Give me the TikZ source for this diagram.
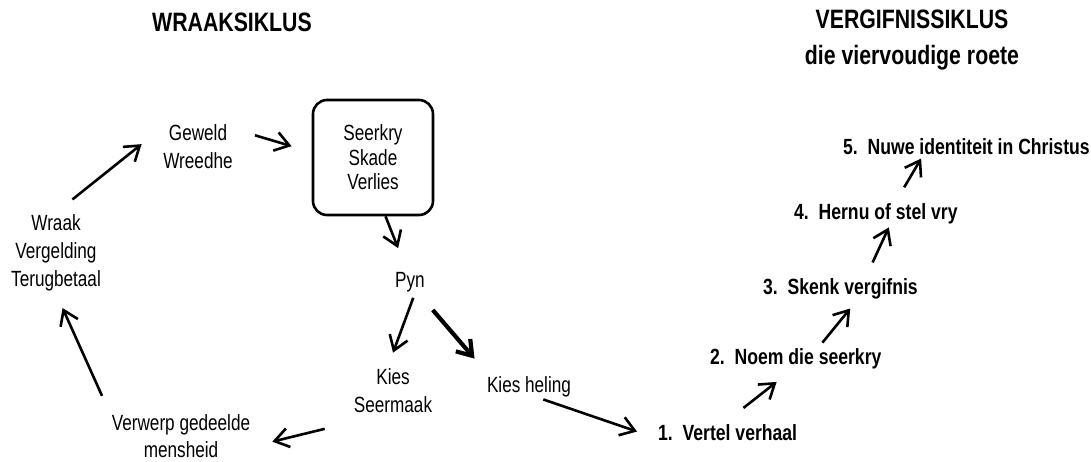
\documentclass[tikz,border=0pt]{standalone}
\usepackage{fontspec}
\setmainfont{Liberation Sans}[FakeStretch=0.78, BoldFeatures={FakeStretch=0.80}]
\usetikzlibrary{arrows.meta}

\tikzset{
    lbl/.style={align=center, font=\fontsize{22}{28}\selectfont},
    stap/.style={anchor=west, font=\bfseries\fontsize{22}{26}\selectfont},
    kop/.style={align=center, font=\bfseries\fontsize{26.6}{36}\selectfont},
    pyl/.style={-{Straight Barb[length=14pt,width=19pt]}, line width=2.6pt}
}

\begin{document}
\begin{tikzpicture}[x=1pt, y=-1pt, inner sep=2pt]
        \useasboundingbox (0, 0) rectangle (1091, 461);
        \begin{scope}
            \node[kop] (wraaktitel) at (232, 22) {WRAAKSIKLUS};
            \node[lbl] (wraak) at (56, 253) {Wraak\\Vergelding\\Terugbetaal};
            \node[lbl] (geweld) at (198, 146.5) {Geweld\\Wreedhe};
            \node[lbl, draw, line width=2.6pt, rounded corners=14pt,
                minimum width=120, minimum height=115,
                font=\fontsize{22}{24.5}\selectfont] (seer) at (373, 157.5) {Seerkry\\Skade\\Verlies};
            \node[lbl] (pyn) at (410, 282) {Pyn};
            \node[lbl] (kies) at (393, 391) {Kies\\Seermaak};
            \node[lbl] (heling) at (529, 387) {Kies heling};
            \node[lbl, font=\fontsize{22}{27}\selectfont] (verwerp) at (181, 436.5) {Verwerp gedeelde\\mensheid};
            \draw[pyl, shorten <=18.5, shorten >=16] (verwerp.north west) -- (wraak.south);
            \draw[pyl, shorten <=21, shorten >=25] (wraak.north) -- (geweld.154);
            \draw[pyl, shorten <=21, shorten >=21] (geweld.25) -- (seer.175);
            \draw[pyl, shorten >=23.5] (seer.-78) -- (pyn.105);
            \draw[pyl, shorten <=4, shorten >=15] (pyn.-69) -- (kies.102);
            \draw[pyl, line width=4.2pt, shorten <=21, shorten >=21] (pyn.-53) -- (heling.163);
            \draw[pyl, shorten <=57, shorten >=20.5] (kies.-118) -- (verwerp.-8);
        \end{scope}
        \begin{scope}
            \node[kop] (vergtitel) at (912, 40) {VERGIFNISSIKLUS\\die viervoudige roete};
            \node[stap] (s1) at (656, 433) {1.\ \ Vertel verhaal};
            \node[stap] (s2) at (708, 359) {2.\ \ Noem die seerkry};
            \node[stap] (s3) at (761, 289) {3.\ \ Skenk vergifnis};
            \node[stap] (s4) at (792, 214) {4.\ \ Hernu of stel vry};
            \node[stap] (s5) at (841, 147) {5.\ \ Nuwe identiteit in Christus};
            \draw[pyl, shorten >=20] (heling.-41) -- (s1.184);
            \draw[pyl, shorten <=24, shorten >=17] (s1.107) -- (s2.-115);
            \draw[pyl, shorten <=5, shorten >=9] (s2.28) -- (s3.-39);
            \draw[pyl, shorten <=15.5, shorten >=1] (s3.26) -- (s4.-43);
            \draw[pyl, shorten <=16.5, shorten >=1.5] (s4.32) -- (s5.-167);
        \end{scope}
    \end{tikzpicture}
\end{document}
